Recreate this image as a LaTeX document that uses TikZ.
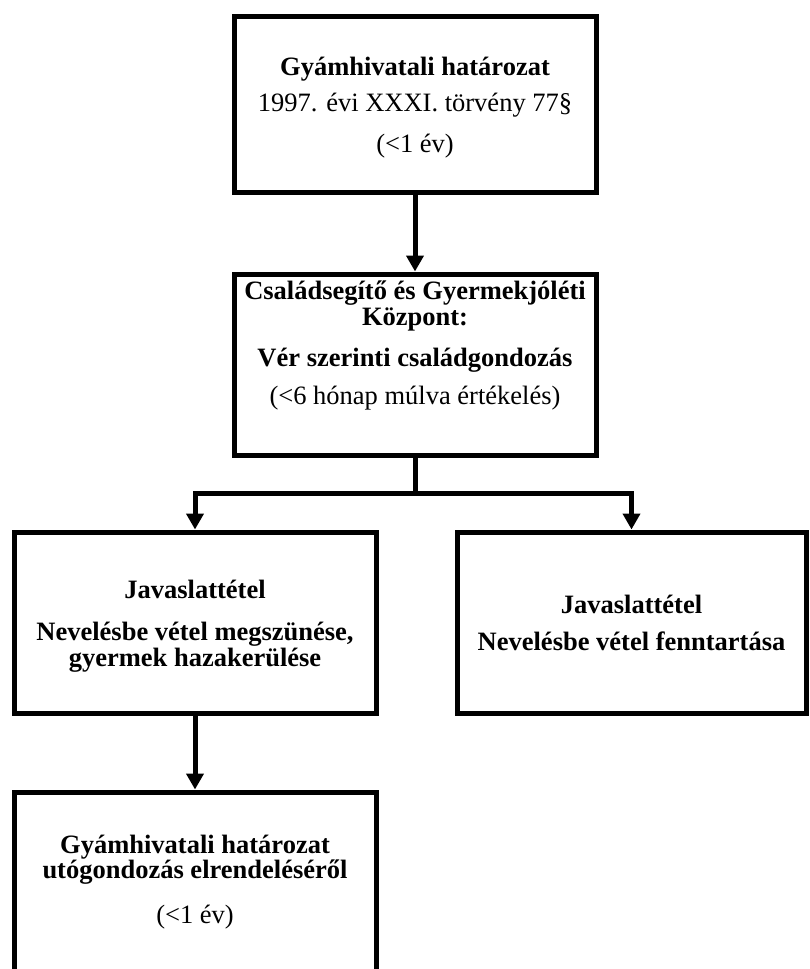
\documentclass[tikz,border=0pt]{standalone}
\usepackage{fontspec}
\setmainfont{Liberation Serif}
\usetikzlibrary{arrows.meta}
\tikzset{
  box/.style={draw, rectangle, line width=5pt, inner sep=0pt},
  txt/.style={anchor=base, inner sep=0pt, font=\fontsize{26.5}{30}\selectfont},
  btxt/.style={txt, font=\fontsize{26.5}{30}\selectfont\bfseries},
  arr/.style={line width=5pt, -{Triangle[width=17pt,length=16pt]}}
}
\begin{document}
\begin{tikzpicture}[x=1pt, y=-1pt]
\useasboundingbox (0,0) rectangle (810,969);
\clip (0,0) rectangle (810,969);
% boxes
\node[box, minimum width=362pt, minimum height=176pt] (b1) at (415,104) {};
\node[box, minimum width=362pt, minimum height=181pt] (b2) at (415,364.5) {};
\node[box, minimum width=362pt, minimum height=181pt] (b3) at (195,622.5) {};
\node[box, minimum width=349pt, minimum height=181pt] (b4) at (631.5,622.5) {};
\node[box, minimum width=362pt, minimum height=218pt] (b5) at (195,901) {};
% texts box 1
\node[btxt] (t11) at (415,75) {Gyámhivatali határozat};
\node[txt] (t12) at (415,111) {1997. évi XXXI. törvény 77§};
\node[txt] (t13) at (415,152) {(<1 év)};
% texts box 2
\node[btxt] (t21) at (415,299) {Családsegítő és Gyermekjóléti};
\node[btxt] (t22) at (415,325) {Központ:};
\node[btxt] (t23) at (415,366) {Vér szerinti családgondozás};
\node[txt] (t24) at (415,404) {(<6 hónap múlva értékelés)};
% texts box 3
\node[btxt] (t31) at (195,598) {Javaslattétel};
\node[btxt] (t32) at (195,640) {Nevelésbe vétel megszünése,};
\node[btxt] (t33) at (195,666) {gyermek hazakerülése};
% texts box 4
\node[btxt] (t41) at (631.5,613) {Javaslattétel};
\node[btxt] (t42) at (631.5,650) {Nevelésbe vétel fenntartása};
% texts box 5
\node[btxt] (t51) at (195,853) {Gyámhivatali határozat};
\node[btxt] (t52) at (195,878) {utógondozás elrendeléséről};
\node[txt] (t53) at (195,923) {(<1 év)};
% connectors
\coordinate (j) at (415,493);
\draw[arr] (b1.south) -- (b2.north);
\draw[arr] (b2.south) -- (j) -| (b3.north);
\draw[arr] (j) -| (b4.north);
\draw[arr] (b3.south) -- (b5.north);
\end{tikzpicture}
\end{document}
